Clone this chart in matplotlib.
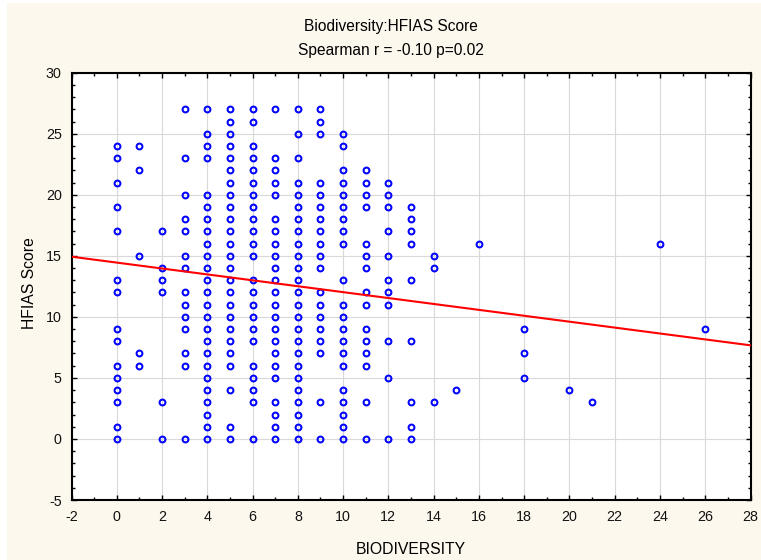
import matplotlib
matplotlib.use("Agg")
import matplotlib.pyplot as plt
from matplotlib.patches import Rectangle
from matplotlib.ticker import MultipleLocator
import numpy as np

plt.rcParams['font.family'] = ['Liberation Sans', 'DejaVu Sans']
plt.rcParams['axes.unicode_minus'] = False

biodiversity_values = [0, 1, 2, 3, 4, 5, 6, 7, 8, 9, 10, 11, 12, 13, 14, 15, 16, 18, 20, 21, 24, 26]
hfias_bio0 = [24, 23, 21, 19, 17, 13, 12, 9, 8, 6, 5, 4, 3, 1, 0]
hfias_bio1 = [24, 22, 15, 7, 6]
hfias_bio2 = [17, 14, 13, 12, 3, 0]
hfias_bio3 = [27, 23, 20, 18, 17, 15, 14, 12, 11, 10, 9, 7, 6, 0]
hfias_bio4 = [27, 25, 24, 23, 20, 19, 18, 17, 16, 15, 14, 13, 12, 11, 10, 9, 8, 7, 6, 5, 4, 3, 2, 1, 0]
hfias_bio5 = [27, 26, 25, 24, 23, 22, 21, 20, 19, 18, 17, 16, 15, 14, 13, 12, 11, 10, 9, 8, 7, 6, 4, 1, 0]
hfias_bio6 = [27, 26, 24, 23, 22, 21, 20, 19, 18, 17, 16, 15, 13, 12, 11, 10, 9, 8, 6, 5, 4, 3, 0]
hfias_bio7 = [27, 23, 22, 21, 20, 18, 17, 16, 15, 14, 13, 12, 11, 10, 9, 8, 7, 6, 5, 3, 2, 1, 0]
hfias_bio8 = [27, 25, 23, 21, 20, 19, 18, 17, 16, 15, 14, 13, 12, 11, 10, 9, 8, 7, 6, 5, 4, 3, 2, 1, 0]
hfias_bio9 = [27, 26, 25, 21, 20, 19, 18, 17, 16, 15, 14, 12, 11, 10, 9, 8, 7, 3, 0]
hfias_bio10 = [25, 24, 22, 21, 20, 19, 18, 17, 16, 13, 11, 10, 9, 8, 7, 6, 4, 3, 2, 1, 0]
hfias_bio11 = [22, 21, 20, 19, 16, 15, 14, 12, 11, 9, 8, 7, 6, 3, 0]
hfias_bio12 = [21, 20, 19, 17, 15, 13, 12, 11, 8, 5, 0]
hfias_bio13 = [19, 18, 17, 16, 13, 8, 3, 1, 0]
hfias_bio14 = [15, 14, 3]
hfias_bio15 = [4]
hfias_bio16 = [16]
hfias_bio18 = [9, 7, 5]
hfias_bio20 = [4]
hfias_bio21 = [3]
hfias_bio24 = [16]
hfias_bio26 = [9]

hfias_columns = [hfias_bio0, hfias_bio1, hfias_bio2, hfias_bio3, hfias_bio4, hfias_bio5,
                 hfias_bio6, hfias_bio7, hfias_bio8, hfias_bio9, hfias_bio10, hfias_bio11,
                 hfias_bio12, hfias_bio13, hfias_bio14, hfias_bio15, hfias_bio16,
                 hfias_bio18, hfias_bio20, hfias_bio21, hfias_bio24, hfias_bio26]

# Regression line endpoints
fit_x = [-2, 28]
fit_y = [14.93, 7.67]

title_line1 = "Biodiversity:HFIAS Score"
title_line2 = "Spearman r = -0.10 p=0.02"
x_label = "BIODIVERSITY"
y_label = "HFIAS Score"

xs = []
ys = []
for bv, col in zip(biodiversity_values, hfias_columns):
    xs.extend([bv] * len(col))
    ys.extend(col)

W, H = 761, 560
fig = plt.figure(figsize=(W / 100, H / 100), dpi=100)
fig.patch.set_facecolor('white')
fig.patches.append(Rectangle((7 / W, 0), 1 - 7 / W, (H - 3) / H,
                             transform=fig.transFigure, facecolor='#fdf8ee',
                             edgecolor='none', zorder=-10))

left, right, top, bottom = 71.5, 750.5, 72.7, 500
ax = fig.add_axes([left / W, (H - bottom) / H, (right - left) / W, (bottom - top) / H])
ax.set_facecolor('white')

ax.plot(xs, ys, linestyle='none', marker='o', markersize=4.2,
        markerfacecolor='none', markeredgecolor='#0000ff', markeredgewidth=1.45,
        zorder=3, clip_on=False)
ax.plot(fit_x, fit_y, color='#ff0000', linewidth=1.5, zorder=4)

ax.set_xlim(-2, 28)
ax.set_ylim(-5, 30)
ax.xaxis.set_major_locator(MultipleLocator(2))
ax.xaxis.set_minor_locator(MultipleLocator(1))
ax.yaxis.set_major_locator(MultipleLocator(5))
ax.yaxis.set_minor_locator(MultipleLocator(1))
ax.grid(True, which='major', color='#d9d9d9', linewidth=0.8, zorder=0)
ax.set_axisbelow(True)

for s in ax.spines.values():
    s.set_linewidth(1.5)
    s.set_color('black')
ax.tick_params(which='both', direction='in', top=True, right=True, colors='black',
               labelsize=10.3, width=1.0)
ax.tick_params(which='major', length=3.5, pad=7)
ax.tick_params(which='minor', length=2)
for lab in ax.get_xticklabels() + ax.get_yticklabels():
    lab.set_color('#111111')

fig.text(391 / W, 1 - 26 / H, title_line1, ha='center', va='center', fontsize=11.2)
fig.text(391 / W, 1 - 51 / H, title_line2, ha='center', va='center', fontsize=11.2)
fig.text(410.5 / W, 1 - 550 / H, x_label, ha='center', va='center', fontsize=11.3)
fig.text(30 / W, 1 - 283 / H, y_label, ha='center', va='center', rotation=90, fontsize=11.3)

fig.savefig('out.png', dpi=100, facecolor=fig.get_facecolor())
